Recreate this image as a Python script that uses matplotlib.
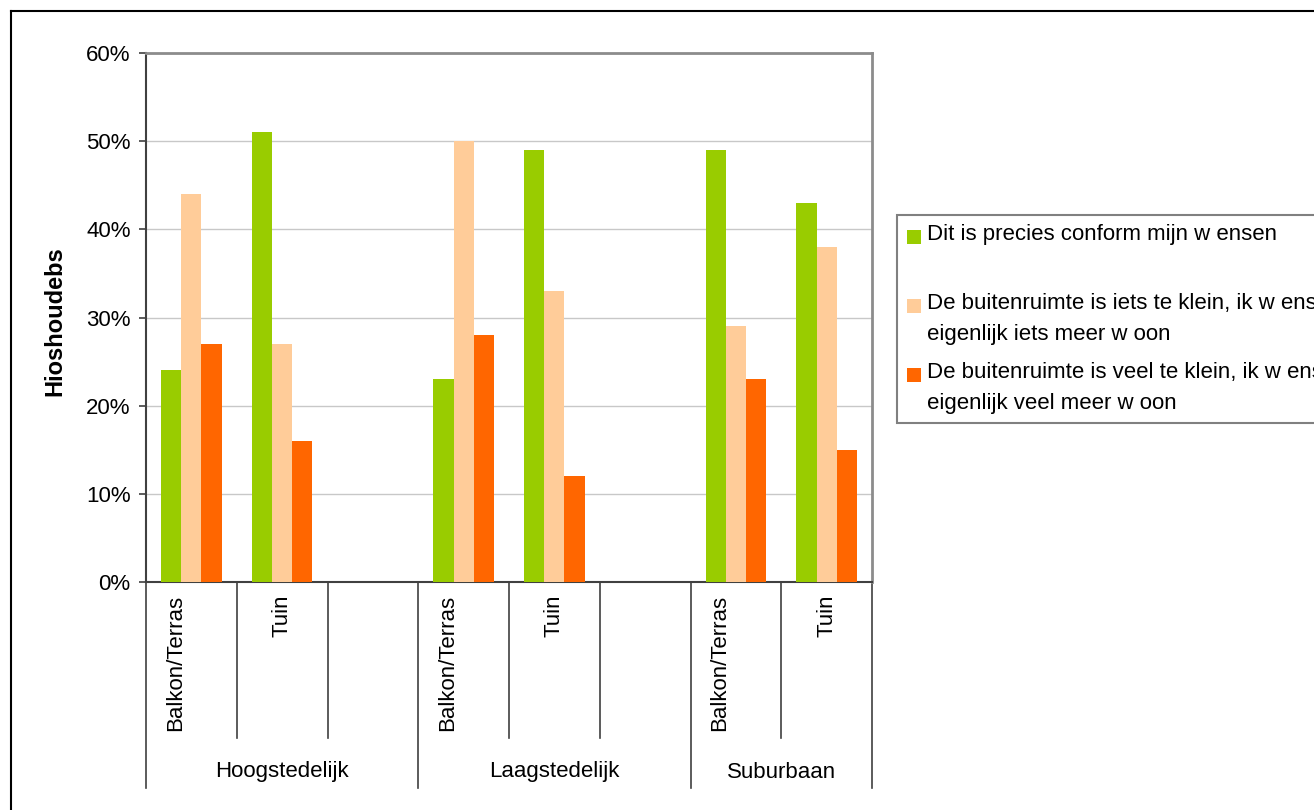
import matplotlib
matplotlib.use("Agg")
import matplotlib.pyplot as plt
import matplotlib.transforms as mtransforms
from matplotlib.patches import Rectangle
from matplotlib.lines import Line2D
import numpy as np

plt.rcParams['font.family'] = ['Liberation Sans', 'DejaVu Sans']

# ---- data ----
groups = ["Hoogstedelijk", "Laagstedelijk", "Suburbaan"]
slot_labels = ["Balkon/Terras", "Tuin", "", "Balkon/Terras", "Tuin", "", "Balkon/Terras", "Tuin"]
slot_group = [0, 0, 0, 1, 1, 1, 2, 2]
series_names = [
    "Dit is precies conform mijn w ensen",
    "De buitenruimte is iets te klein, ik w ens\neigenlijk iets meer w oon",
    "De buitenruimte is veel te klein, ik w ens\neigenlijk veel meer w oon",
]
precies = [24, 51, np.nan, 23, 49, np.nan, 49, 43]
iets_klein = [44, 27, np.nan, 50, 33, np.nan, 29, 38]
veel_klein = [27, 16, np.nan, 28, 12, np.nan, 23, 15]
series = [precies, iets_klein, veel_klein]
colors = ["#99CC00", "#FFCC99", "#FF6600"]
ylabel = "Hioshoudebs"
yticks = [0, 10, 20, 30, 40, 50, 60]

W, H = 1314, 810
fig = plt.figure(figsize=(W / 100, H / 100), dpi=100)

def fx(px):
    return px / W

def fy(py):
    return 1 - py / H

ax = fig.add_axes([fx(146), fy(582), fx(872) - fx(146), fy(53) - fy(582)])

n = len(slot_labels)
x = np.arange(n)
bw = 1 / 4.5
for i, (vals, c) in enumerate(zip(series, colors)):
    ax.bar(x + (i - 1) * bw, [v / 100 for v in vals], width=bw, color=c, linewidth=0, zorder=3)

ax.set_xlim(-0.5, n - 0.5)
ax.set_ylim(0, 0.6)
ax.set_yticks([t / 100 for t in yticks])
ax.set_yticklabels([f"{t}%" for t in yticks], fontsize=16, color="black")
ax.yaxis.grid(True, color="#C8C8C8", linewidth=1.0, zorder=0)
ax.set_axisbelow(True)
ax.tick_params(axis="y", direction="out", length=5, width=1.2, color="#404040", pad=6)

for s in ["top", "right"]:
    ax.spines[s].set_color("#8C8C8C")
    ax.spines[s].set_linewidth(2.0)
ax.spines["left"].set_color("#404040")
ax.spines["left"].set_linewidth(1.5)
ax.spines["bottom"].set_color("#404040")
ax.spines["bottom"].set_linewidth(1.5)

ax.set_xticks(x)
ax.set_xticklabels(slot_labels, rotation=90, va="top", ha="center", fontsize=16)
ax.tick_params(axis="x", length=0, pad=9)
for lab in ax.get_xticklabels():
    if len(lab.get_text()) > 5:
        lab.set_transform(lab.get_transform() + mtransforms.ScaledTranslation(-16 / 100, 0, fig.dpi_scale_trans))

# separators
trans = mtransforms.blended_transform_factory(ax.transData, ax.transAxes)
slot_len = (738 - 582) / (582 - 53)
grp_len = (788 - 582) / (582 - 53)
group_bounds = [-0.5]
for k in range(1, n):
    if slot_group[k] != slot_group[k - 1]:
        group_bounds.append(k - 0.5)
group_bounds.append(n - 0.5)
for k in range(n + 1):
    b = k - 0.5
    L = grp_len if b in group_bounds else slot_len
    ax.add_line(Line2D([b, b], [0, -L], transform=trans, color="#404040", lw=1.2, clip_on=False))

# group labels
for gi, g in enumerate(groups):
    cx = (group_bounds[gi] + group_bounds[gi + 1]) / 2
    ax.text(cx, -(772 - 582) / (582 - 53), g, transform=trans, ha="center", va="center", fontsize=16)

# y label
fig.text(fx(55), fy(321), ylabel, rotation=90, ha="center", va="center", fontsize=17, fontweight="bold")

# outer frame (left and top edges visible)
fig.add_artist(Line2D([fx(11), fx(11)], [fy(11), 0], transform=fig.transFigure, color="black", lw=1.5))
fig.add_artist(Line2D([fx(11), 1], [fy(11), fy(11)], transform=fig.transFigure, color="black", lw=1.5))

# legend box
fig.add_artist(Rectangle((fx(897), fy(423)), fx(1400) - fx(897), fy(215) - fy(423),
                         transform=fig.transFigure, facecolor="white", edgecolor="#808080", lw=1.5))
marker_y = [237, 306, 375]
for name, c, my in zip(series_names, colors, marker_y):
    fig.add_artist(Rectangle((fx(907), fy(my + 7)), fx(14), 14 / H, transform=fig.transFigure,
                             facecolor=c, edgecolor="none"))
    fig.text(fx(927), fy(my - 13), name, ha="left", va="top", fontsize=16, linespacing=1.6)

fig.savefig("out.png", dpi=100)
